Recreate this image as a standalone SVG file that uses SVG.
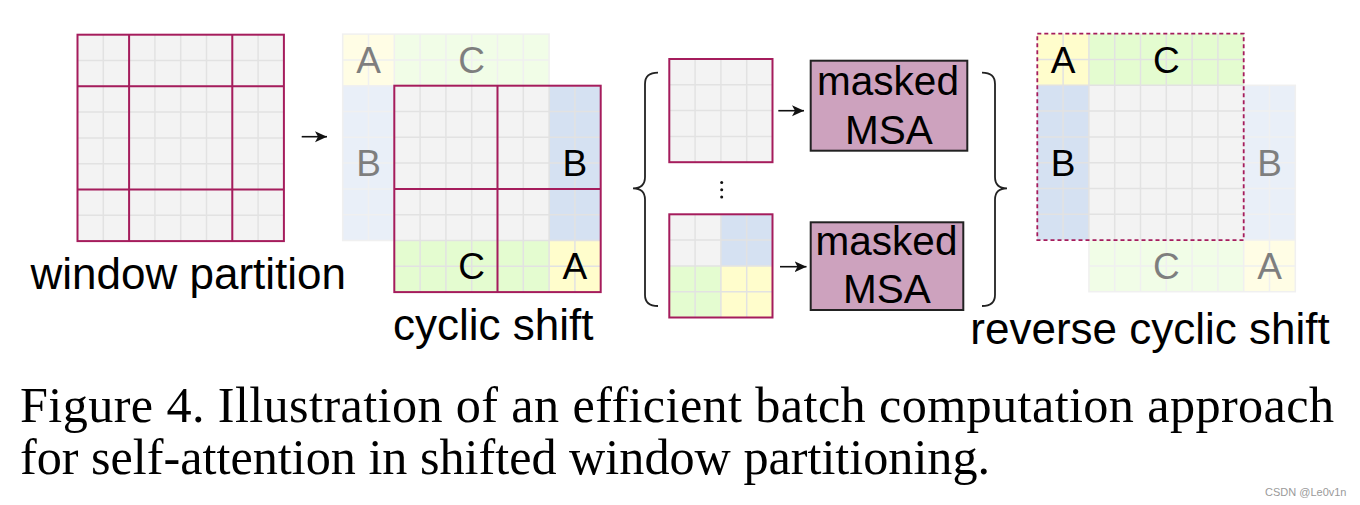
<svg xmlns="http://www.w3.org/2000/svg" xmlns:xlink="http://www.w3.org/1999/xlink" width="1360" height="505" viewBox="0 0 1360 505">
<style>
.bg{fill:#f3f3f3}
.bl{fill:#d5e1f2}
.gr{fill:#e4fcd0}
.ye{fill:#fffdcc}
.gl{fill:none;stroke:#e2e2e2;stroke-width:1.5}
.win{fill:none;stroke:#a51c5c;stroke-width:2}
.dash{fill:none;stroke:#a51c5c;stroke-width:1.8;stroke-dasharray:4 3}
.let{font-family:"Liberation Sans",Arial,sans-serif;font-size:37px;fill:#000;text-anchor:middle}
.lab{font-family:"Liberation Sans",Arial,sans-serif;font-size:44px;fill:#000;text-anchor:middle}
.msa{font-family:"Liberation Sans",Arial,sans-serif;font-size:40.5px;fill:#000;text-anchor:middle}
.box{fill:#cda2be;stroke:#222;stroke-width:2}
.cap{font-family:"Liberation Serif","Times New Roman",serif;font-size:50.2px;fill:#000}
.fade{opacity:0.5}
.arr{fill:none;stroke:#111;stroke-width:1.6}
.brace{fill:none;stroke:#222;stroke-width:1.8}
</style>
<defs>
<path id="g8" class="gl" d="M25.8 0V206.4M51.6 0V206.4M77.4 0V206.4M103.2 0V206.4M129 0V206.4M154.8 0V206.4M180.6 0V206.4M0 25.8H206.4M0 51.6H206.4M0 77.4H206.4M0 103.2H206.4M0 129H206.4M0 154.8H206.4M0 180.6H206.4"/>
<path id="g4" class="gl" d="M25.8 0V103.2M51.6 0V103.2M77.4 0V103.2M0 25.8H103.2M0 51.6H103.2M0 77.4H103.2"/>
<marker id="ah" markerUnits="userSpaceOnUse" markerWidth="14" markerHeight="12" refX="12" refY="6" orient="auto">
<path d="M0 0.5L12 6L0 11.5L3 6z" fill="#111"/>
</marker>
</defs>
<rect width="1360" height="505" fill="#fff"/>

<g id="window-partition" transform="translate(77.5,34.7)">
<rect class="bg" width="206.4" height="206.4"/>
<use xlink:href="#g8"/>
<path class="win" d="M51.6 0V206.4M154.8 0V206.4M0 51.6H206.4M0 154.8H206.4"/>
<rect class="win" width="206.4" height="206.4"/>
</g>
<g id="window-partition-label"><text class="lab" x="188.3" y="289">window partition</text></g>

<g id="cyclic-shift">
<g class="fade" transform="translate(342.7,34.1)">
<rect class="bg" width="206.4" height="206.4"/>
<rect class="ye" width="51.6" height="51.6"/>
<rect class="gr" x="51.6" width="154.8" height="51.6"/>
<rect class="bl" y="51.6" width="51.6" height="154.8"/>
<use xlink:href="#g8"/>
<rect class="gl" width="206.4" height="206.4"/>
<text class="let" x="25.8" y="39">A</text>
<text class="let" x="129" y="39">C</text>
<text class="let" x="25.8" y="142.2">B</text>
</g>
<g transform="translate(394.3,85.7)">
<rect class="bg" width="206.4" height="206.4"/>
<rect class="bl" x="154.8" width="51.6" height="154.8"/>
<rect class="gr" y="154.8" width="154.8" height="51.6"/>
<rect class="ye" x="154.8" y="154.8" width="51.6" height="51.6"/>
<use xlink:href="#g8"/>
<path class="win" d="M103.2 0V206.4M0 103.2H206.4"/>
<rect class="win" width="206.4" height="206.4"/>
<text class="let" x="180.6" y="90.6">B</text>
<text class="let" x="77.4" y="193.8">C</text>
<text class="let" x="180.6" y="193.8">A</text>
</g>
<text class="lab" x="493.3" y="340">cyclic shift</text>
</g>

<g id="batch-window-1" transform="translate(669.3,59)">
<rect class="bg" width="103.2" height="103.2"/>
<use xlink:href="#g4"/>
<rect class="win" width="103.2" height="103.2"/>
</g>
<g id="batch-dots" fill="#111">
<circle cx="721.7" cy="182.5" r="1.5"/>
<circle cx="721.7" cy="189.8" r="1.5"/>
<circle cx="721.7" cy="197.1" r="1.5"/>
</g>
<g id="batch-window-n" transform="translate(669.3,214.3)">
<rect class="bg" width="51.6" height="51.6"/>
<rect class="bl" x="51.6" width="51.6" height="51.6"/>
<rect class="gr" y="51.6" width="51.6" height="51.6"/>
<rect class="ye" x="51.6" y="51.6" width="51.6" height="51.6"/>
<use xlink:href="#g4"/>
<rect class="win" width="103.2" height="103.2"/>
</g>

<g id="masked-msa-1">
<rect class="box" x="810.7" y="60.7" width="156.6" height="90"/>
<text class="msa" x="888" y="95">masked</text>
<text class="msa" x="889" y="144">MSA</text>
</g>
<g id="masked-msa-2">
<rect class="box" x="810.7" y="222.3" width="152.6" height="87.7"/>
<text class="msa" x="886.5" y="255">masked</text>
<text class="msa" x="887" y="303.3">MSA</text>
</g>

<g id="reverse-cyclic-shift">
<g class="fade" transform="translate(1088.9,85.3)">
<rect class="bg" width="206.4" height="206.4"/>
<rect class="bl" x="154.8" width="51.6" height="154.8"/>
<rect class="gr" y="154.8" width="154.8" height="51.6"/>
<rect class="ye" x="154.8" y="154.8" width="51.6" height="51.6"/>
<use xlink:href="#g8"/>
<rect class="gl" width="206.4" height="206.4"/>
<text class="let" x="180.6" y="90.6">B</text>
<text class="let" x="77.4" y="193.8">C</text>
<text class="let" x="180.6" y="193.8">A</text>
</g>
<g transform="translate(1037.3,33.7)">
<rect class="bg" width="206.4" height="206.4"/>
<rect class="ye" width="51.6" height="51.6"/>
<rect class="gr" x="51.6" width="154.8" height="51.6"/>
<rect class="bl" y="51.6" width="51.6" height="154.8"/>
<use xlink:href="#g8"/>
<rect class="dash" width="206.4" height="206.4"/>
<text class="let" x="25.8" y="39">A</text>
<text class="let" x="129" y="39">C</text>
<text class="let" x="25.8" y="142.2">B</text>
</g>
<text class="lab" x="1150" y="344">reverse cyclic shift</text>
</g>

<g id="connectors">
<path class="arr" d="M301.7 136.7H327" marker-end="url(#ah)"/>
<path class="arr" d="M778.3 110.7H804" marker-end="url(#ah)"/>
<path class="arr" d="M780 266.7H806.5" marker-end="url(#ah)"/>
<path class="brace" d="M658 72.7Q645 72.7 645 84L645 177Q645 188.3 633 188.3Q645 188.3 645 199.6L645 295Q645 306 658 306"/>
<path class="brace" d="M982 72.7Q995 72.7 995 84L995 177Q995 188.3 1007 188.3Q995 188.3 995 199.6L995 295Q995 306 982 306"/>
</g>

<g id="caption">
<text class="cap" x="20" y="422" textLength="1314" lengthAdjust="spacing">Figure 4. Illustration of an efficient batch computation approach</text>
<text class="cap" x="20" y="474">for self-attention in shifted window partitioning.</text>
</g>
<text x="1265" y="496" font-family="'Liberation Sans',Arial,sans-serif" font-size="11" fill="#9a9a9a">CSDN @Le0v1n</text>
</svg>
